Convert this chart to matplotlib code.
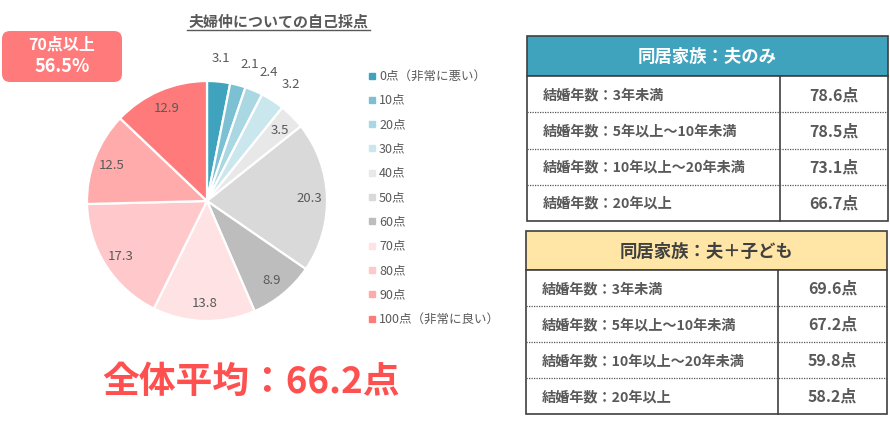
import numpy as np
import matplotlib
matplotlib.use("Agg")
import matplotlib.pyplot as plt
from matplotlib.patches import Rectangle, FancyBboxPatch

plt.rcParams['font.family'] = ['Noto Sans CJK JP', 'DejaVu Sans']

# データ
score_labels = ['0点（非常に悪い）', '10点', '20点', '30点', '40点', '50点',
                '60点', '70点', '80点', '90点', '100点（非常に良い）']
shares = [3.1, 2.1, 2.4, 3.2, 3.5, 20.3, 8.9, 13.8, 17.3, 12.5, 12.9]
colors = ['#3fa3bd', '#7cc1d3', '#a9d8e3', '#cbe7ee', '#e8e8e8', '#d9d9d9',
          '#bdbdbd', '#ffe2e4', '#ffc8ca', '#ffabac', '#ff7b7b']

year_labels = ['結婚年数：3年未満', '結婚年数：5年以上～10年未満',
               '結婚年数：10年以上～20年未満', '結婚年数：20年以上']
husband_only = [78.6, 78.5, 73.1, 66.7]
husband_child = [69.6, 67.2, 59.8, 58.2]
overall_avg = 66.2
over70 = 56.5

W, H = 890, 431
fig = plt.figure(figsize=(W / 100, H / 100), dpi=100)

# 背景用（ピクセル座標、y下向き）
ax = fig.add_axes([0, 0, 1, 1])
ax.set_xlim(0, W)
ax.set_ylim(H, 0)
ax.axis('off')

gray = '#595959'

# 円グラフ
cx, cy, r = 207, 202, 120
axp = fig.add_axes([(cx - r) / W, (H - cy - r) / H, 2 * r / W, 2 * r / H])
wedges, _ = axp.pie(shares, colors=colors, startangle=90, counterclock=False,
                    wedgeprops=dict(edgecolor='white', linewidth=1.6))
axp.set_xlim(-1, 1)
axp.set_ylim(-1, 1)
for i, (w, v) in enumerate(zip(wedges, shares)):
    ang = np.deg2rad((w.theta1 + w.theta2) / 2)
    d = 1.2 if i < 4 else 0.85
    if 0 < i < 4:
        ang -= np.deg2rad(2.5)
    axp.text(d * np.cos(ang), d * np.sin(ang), f'{v:.1f}', ha='center', va='center',
             fontsize=9.5, color=gray, clip_on=False)

# タイトル
ax.text(278, 22, '夫婦仲についての自己採点', ha='center', va='center',
        fontsize=10.8, fontweight='bold', color=gray)
ax.plot([187, 370], [31, 31], color=gray, lw=1)

# 凡例
for i, (lab, c) in enumerate(zip(score_labels, colors)):
    y = 76 + i * 24.3
    ax.add_patch(Rectangle((368.5, y - 2.5), 6, 6, color=c))
    ax.text(379, y, lab, ha='left', va='center', fontsize=9, color=gray)

# 70点以上
ax.add_patch(FancyBboxPatch((2, 32), 120, 51, boxstyle='round,pad=0,rounding_size=8',
                            fc='#ff7b7b', ec='none'))
ax.text(62, 45, '70点以上', ha='center', va='center', fontsize=11.5,
        fontweight='bold', color='white')
ax.text(62, 67, f'{over70}%', ha='center', va='center', fontsize=13,
        fontweight='bold', color='white')

# 全体平均
ax.text(251, 382, f'全体平均：{overall_avg}点', ha='center', va='center',
        fontsize=26.5, fontweight='bold', color='#ff5050')


def draw_table(x0, x1, top, head_h, row_h, title, head_fc, head_tc, values, xdiv):
    ax.add_patch(Rectangle((x0, top), x1 - x0, head_h, fc=head_fc, ec='#404040', lw=1.2))
    ax.text((x0 + x1) / 2, top + head_h / 2, title, ha='center', va='center',
            fontsize=12.5, fontweight='bold', color=head_tc)
    body_top = top + head_h
    n = len(values)
    ax.add_patch(Rectangle((x0, body_top), x1 - x0, row_h * n, fc='white',
                           ec='#404040', lw=1.2))
    ax.plot([xdiv, xdiv], [body_top, body_top + row_h * n], color='#404040', lw=1.2)
    for k in range(1, n):
        yy = body_top + k * row_h
        ax.plot([x0, x1], [yy, yy], color='#555555', lw=0.9, ls=(0, (1, 1)))
    for k, (lab, v) in enumerate(zip(year_labels, values)):
        yy = body_top + (k + 0.5) * row_h
        ax.text(x0 + 16, yy, lab, ha='left', va='center', fontsize=10.2,
                fontweight='bold', color=gray)
        ax.text((xdiv + x1) / 2, yy, f'{v}点', ha='center', va='center',
                fontsize=11.5, fontweight='bold', color=gray)


draw_table(527, 888, 37, 40, 36.25, '同居家族：夫のみ', '#3fa3bd', 'white',
           husband_only, 780)
draw_table(526, 887, 232, 39, 36, '同居家族：夫＋子ども', '#ffe5a6', '#404040',
           husband_child, 778)

fig.savefig('out.png', dpi=100)
